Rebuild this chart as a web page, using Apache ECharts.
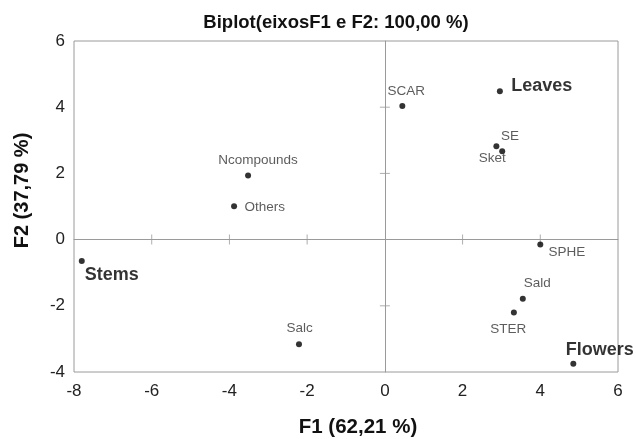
<!DOCTYPE html>
<html><head><meta charset="utf-8">
<script src="https://cdn.jsdelivr.net/npm/echarts@6/dist/echarts.min.js"></script>
<style>html,body{margin:0;padding:0;background:#fff}#c{width:636px;height:439px}</style>
</head><body><div id="c"></div>
<script>
const names = ['Stems','Ncompounds','Others','Salc','SCAR','Leaves','SE','Sket','SPHE','Sald','STER','Flowers'];
const f1 = [-7.8,-3.52,-3.88,-2.21,0.45,2.96,2.87,3.02,4.0,3.55,3.32,4.85];
const f2 = [-0.65,1.94,1.01,-3.16,4.04,4.48,2.82,2.67,-0.15,-1.79,-2.2,-3.75];
const xTicks = [-8,-6,-4,-2,0,2,4,6];
const yTicks = [-4,-2,0,2,4,6];

const bold = {Stems:1, Leaves:1, Flowers:1};
// label placement relative to the point: [align, dx, dy] (vertical middle)
const place = {
  Stems:['left',3,13.5],
  Ncompounds:['center',10,-15.5],
  Others:['left',10.5,1],
  Salc:['center',0.7,-15.7],
  SCAR:['center',4,-14.7],
  Leaves:['left',11.4,-5],
  SE:['left',4.7,-10],
  Sket:['center',-10,7.3],
  SPHE:['left',8.3,8.2],
  Sald:['center',14.4,-15.4],
  STER:['center',-5.6,17],
  Flowers:['center',26.5,-13.3]
};

const font = 'Liberation Sans, Arial, sans-serif';
const SYM = 6;
const data = names.map((n,i)=>{
  const p = place[n];
  return {
    name:n, value:[f1[i],f2[i]],
    label:{show:true, formatter:n, position:[SYM/2+p[1], SYM/2+p[2]], align:p[0], verticalAlign:'middle',
      fontFamily:font, fontSize: bold[n]?18:13.5, fontWeight: bold[n]?'bold':'normal', color: bold[n]?'#000':'#333'}
  };
});

const xMin = xTicks[0], xMax = xTicks[xTicks.length-1];
const yMin = yTicks[0], yMax = yTicks[yTicks.length-1];
const xInner = xTicks.filter(v=>v!==xMin && v!==xMax && v!==0);
const yInner = yTicks.filter(v=>v!==yMin && v!==yMax && v!==0);
// crossing tick marks on the zero lines
const tickData = xInner.map(v=>({value:[v,0], symbolSize:[1,10]}))
  .concat(yInner.map(v=>({value:[0,v], symbolSize:[10,1]})));

const base = {type:'value', splitLine:{show:false}};
const axisGray = '#9a9a9a';

const chart = echarts.init(document.getElementById('c'));
chart.setOption({
  animation:false,
  title:{text:'Biplot(eixosF1 e F2: 100,00 %)', left:331, top:8, textAlign:'center',
    textStyle:{fontFamily:font, fontSize:18.5, fontWeight:'bold', color:'#111'}},
  grid:{left:74, right:18, top:41, bottom:67, show:true, borderColor:axisGray, borderWidth:1,
    containLabel:false, outerBoundsMode:'none'},
  xAxis:[
    Object.assign({}, base, {min:xMin, max:xMax, interval:2, position:'bottom',
      axisLine:{show:false, onZero:false}, axisTick:{show:false},
      axisLabel:{fontFamily:font, fontSize:17, color:'#222', margin:11},
      name:'F1 (62,21 %)', nameLocation:'middle', nameGap:45,
      nameTextStyle:{fontFamily:font, fontSize:20.5, fontWeight:'bold', color:'#111', padding:[0,0,0,24]}}),
    Object.assign({}, base, {min:xMin, max:xMax, interval:2, position:'bottom',
      axisLine:{show:true, onZero:true, onZeroAxisIndex:0, lineStyle:{color:axisGray, width:1}},
      axisTick:{show:false}, axisLabel:{show:false}})
  ],
  yAxis:[
    Object.assign({}, base, {min:yMin, max:yMax, interval:2, position:'left',
      axisLine:{show:false, onZero:false}, axisTick:{show:false},
      axisLabel:{fontFamily:font, fontSize:17, color:'#222', margin:9},
      name:'F2 (37,79 %)', nameLocation:'middle', nameGap:42, nameRotate:90,
      nameTextStyle:{fontFamily:font, fontSize:20, fontWeight:'bold', color:'#111', padding:[0,0,0,32]}}),
    Object.assign({}, base, {min:yMin, max:yMax, interval:2, position:'left',
      axisLine:{show:true, onZero:true, onZeroAxisIndex:0, lineStyle:{color:axisGray, width:1}},
      axisTick:{show:false}, axisLabel:{show:false}})
  ],
  series:[{
    type:'scatter', xAxisIndex:0, yAxisIndex:0, symbol:'rect', silent:true,
    itemStyle:{color:axisGray}, data:tickData, z:1
  },{
    type:'scatter', xAxisIndex:0, yAxisIndex:0, symbol:'circle', symbolSize:SYM,
    itemStyle:{color:'#000'}, labelLayout:{hideOverlap:false}, data:data, z:3
  }]
});
</script></body></html>
